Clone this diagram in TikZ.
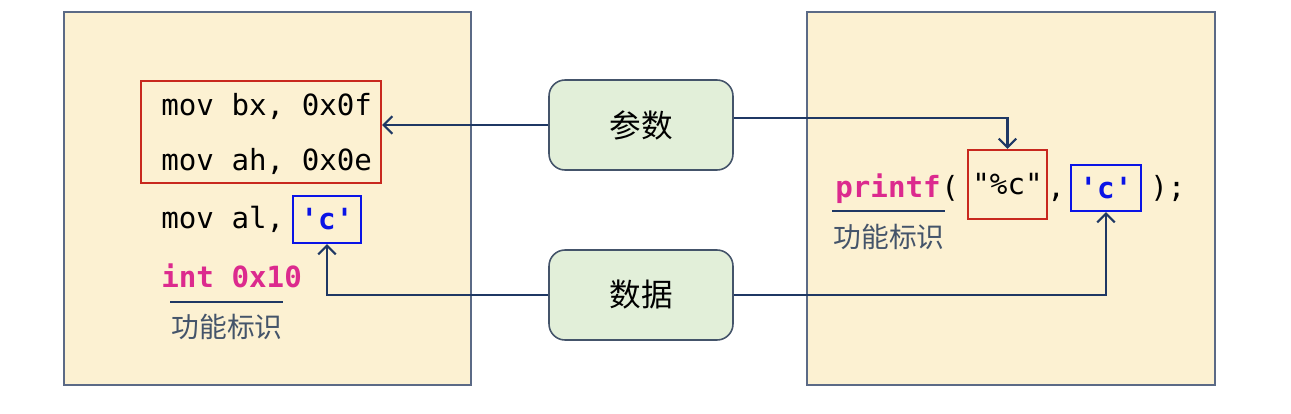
\documentclass[tikz,border=0pt]{standalone}
\usepackage{fontspec}
\usepackage{xcolor}
\usepackage{tikz}
\setmonofont{DejaVu Sans Mono}
\newfontfamily\cjk{Noto Sans CJK SC}
\usetikzlibrary{positioning,calc,arrows.meta}

\definecolor{panelfill}{HTML}{FCF1D2}
\definecolor{panelline}{HTML}{5B6A86}
\definecolor{tagfill}{HTML}{E2EFD9}
\definecolor{tagline}{HTML}{44546A}
\definecolor{linkblue}{HTML}{1F3864}
\definecolor{keypink}{HTML}{DC2A8E}
\definecolor{boxred}{HTML}{C8281E}
\definecolor{boxblue}{HTML}{0A14E6}

\begin{document}
\begin{tikzpicture}[x=0.02cm, y=-0.02cm,
    panel/.style={draw=panelline, fill=panelfill, line width=0.8pt},
    tag/.style={draw=tagline, fill=tagfill, rounded corners=0.32cm, line width=0.9pt,
        minimum width=3.68cm, minimum height=1.8cm, font=\cjk\fontsize{18}{20}\selectfont},
    code/.style={font=\ttfamily\fontsize{16.6}{18}\selectfont, inner sep=0pt, anchor=base west},
    key/.style={code, text=keypink, font=\ttfamily\bfseries\fontsize{16.6}{18}\selectfont},
    regbox/.style={draw=boxred, line width=1.2pt, inner sep=0pt},
    valbox/.style={draw=boxblue, line width=1.2pt, inner sep=0pt, text=boxblue,
        font=\ttfamily\bfseries\fontsize{16.6}{18}\selectfont},
    note/.style={font=\cjk\fontsize{15.8}{18}\selectfont, text=tagline},
    link/.style={draw=linkblue, line width=1.2pt, -{Straight Barb[length=5pt, width=10pt]}}
]
    \fill[white] (0,0) rectangle (1291,413);
    \useasboundingbox (0,0) rectangle (1291,413);

    % the two panels
    \draw[panel] (64,12) rectangle (471,385);
    \draw[panel] (807,12) rectangle (1215,385);

    % assembly side
    \node[regbox, minimum width=4.8cm, minimum height=2.04cm] (regs) at (261,132) {};
    \node[code] (bx) at (161,115) {mov bx, 0x0f};
    \node[code] (ah) at (161,170) {mov ah, 0x0e};
    \node[code] (al) at (161,228) {mov al,};
    \node[valbox, minimum width=1.36cm, minimum height=0.94cm] (chA) at (327,219.5) {'c'};
    \node[key] (int) at (161,287) {int 0x10};
    \draw[draw=linkblue, line width=1pt] (170,302) -- (283,302);
    \node[note] (fnA) at (227,327) {功能标识};

    % C side
    \node[key] (pf) at (835,197) {printf};
    \node[code] (lp) at (pf.base east) {(};
    \node[regbox, minimum width=1.58cm, minimum height=1.38cm,
        font=\ttfamily\fontsize{16.6}{18}\selectfont] (fmt) at (1007.5,184.5) {"\%c"};
    \node[code] (cm) at (1047,197) {,};
    \node[valbox, minimum width=1.4cm, minimum height=0.92cm] (chB) at (1106,188) {'c'};
    \node[code] (rp) at (1150,197) {);};
    \draw[draw=linkblue, line width=1pt] (832,211) -- (945,211);
    \node[note] (fnB) at (889,237) {功能标识};

    % middle labels
    \node[tag] (param) at (641,125) {参数};
    \node[tag] (data) at (641,295) {数据};

    % links
    \draw[link] (param.west) -- (param.west -| regs.east);
    \draw[link] ([yshift=0.14cm]param.east) -| (fmt.north);
    \draw[link] (data.west) -| (chA.south);
    \draw[link] (data.east) -| (chB.south);
\end{tikzpicture}
\end{document}
